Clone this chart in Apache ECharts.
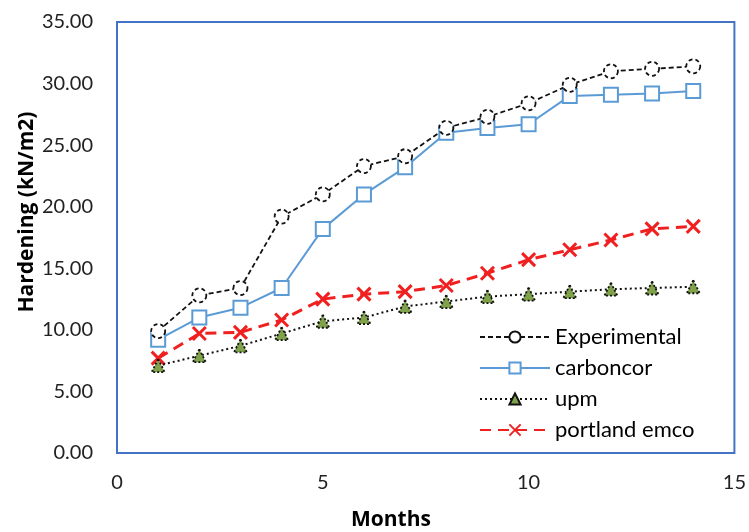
<!DOCTYPE html>
<html>
<head>
<meta charset="utf-8">
<script src="https://cdn.jsdelivr.net/npm/echarts@6/dist/echarts.min.js"></script>
<style>html,body{margin:0;padding:0;background:#fff}#c{width:749px;height:532px}</style>
</head>
<body>
<div id="c"></div>
<script>
const months = [1,2,3,4,5,6,7,8,9,10,11,12,13,14];
const experimental = [9.9,12.8,13.4,19.2,21.0,23.3,24.1,26.4,27.3,28.4,29.9,31.0,31.2,31.4];
const carboncor = [9.2,11.0,11.8,13.4,18.2,21.0,23.2,26.0,26.4,26.7,29.0,29.1,29.2,29.4];
const upm = [7.1,7.9,8.7,9.7,10.7,11.0,11.9,12.3,12.7,12.9,13.1,13.3,13.4,13.5];
const portland = [7.7,9.7,9.8,10.8,12.5,12.9,13.1,13.6,14.6,15.7,16.5,17.3,18.2,18.4];
const seriesNames = ['Experimental','carboncor','upm','portland emco'];
const xTicks = {min:0, max:15, interval:5};
const yTicks = {min:0, max:35, interval:5};

const pair = arr => months.map((m,i)=>[m,arr[i]]);
const font = 'Lato, Open Sans, sans-serif';
const titleFont = 'Open Sans, Lato, sans-serif';
const chart = echarts.init(document.getElementById('c'));
chart.setOption({
  animation:false,
  backgroundColor:'#fff',
  grid:{left:117,right:13,top:22,bottom:79,show:true,borderColor:'#4472C4',borderWidth:2},
  xAxis:{type:'value',min:xTicks.min,max:xTicks.max,interval:xTicks.interval,
    axisLine:{show:false},axisTick:{show:false},splitLine:{show:false},
    axisLabel:{color:'#222',fontSize:20,fontFamily:font,margin:20}},
  yAxis:{type:'value',min:yTicks.min,max:yTicks.max,interval:yTicks.interval,
    axisLine:{show:false},axisTick:{show:false},splitLine:{show:false},
    axisLabel:{color:'#222',fontSize:20,fontFamily:font,margin:24,formatter:v=>v.toFixed(2)}},
  graphic:[
    {type:'text',x:27,y:212,rotation:Math.PI/2,style:{text:'Hardening (kN/m2)',font:'bold 21px '+titleFont,fill:'#000',textAlign:'center',textVerticalAlign:'middle'}},
    {type:'text',x:391,y:520,style:{text:'Months',font:'bold 21px '+titleFont,fill:'#000',textAlign:'center',textVerticalAlign:'middle'}}
  ],
  legend:{orient:'vertical',left:474,top:321,itemWidth:70,itemHeight:14,itemGap:9,
    textStyle:{fontSize:22,fontFamily:font,color:'#000'},
    data:seriesNames},
  series:[
    {name:seriesNames[0],type:'line',data:pair(experimental),symbol:'circle',symbolSize:14,
      lineStyle:{color:'#111',width:1.8,type:[5,3]},
      itemStyle:{color:'#fff',borderColor:'#111',borderWidth:1.8,borderType:[4,3]},z:4},
    {name:seriesNames[1],type:'line',data:pair(carboncor),symbol:'rect',symbolSize:14,
      lineStyle:{color:'#5B9BD5',width:2},
      itemStyle:{color:'#fff',borderColor:'#5B9BD5',borderWidth:2},z:3},
    {name:seriesNames[2],type:'line',data:pair(upm),symbol:'triangle',symbolSize:13,
      lineStyle:{color:'#111',width:2,type:[2,3]},
      itemStyle:{color:'#7FA24A',borderColor:'#111',borderWidth:1.8,borderType:[2,2]},z:2},
    {name:seriesNames[3],type:'line',data:pair(portland),symbol:'path://M0,0L10,10M10,0L0,10',symbolSize:13,
      lineStyle:{color:'#F02020',width:3,type:[11,7]},
      itemStyle:{color:'none',borderColor:'#F02020',borderWidth:3},z:1}
  ]
});
</script>
</body>
</html>
